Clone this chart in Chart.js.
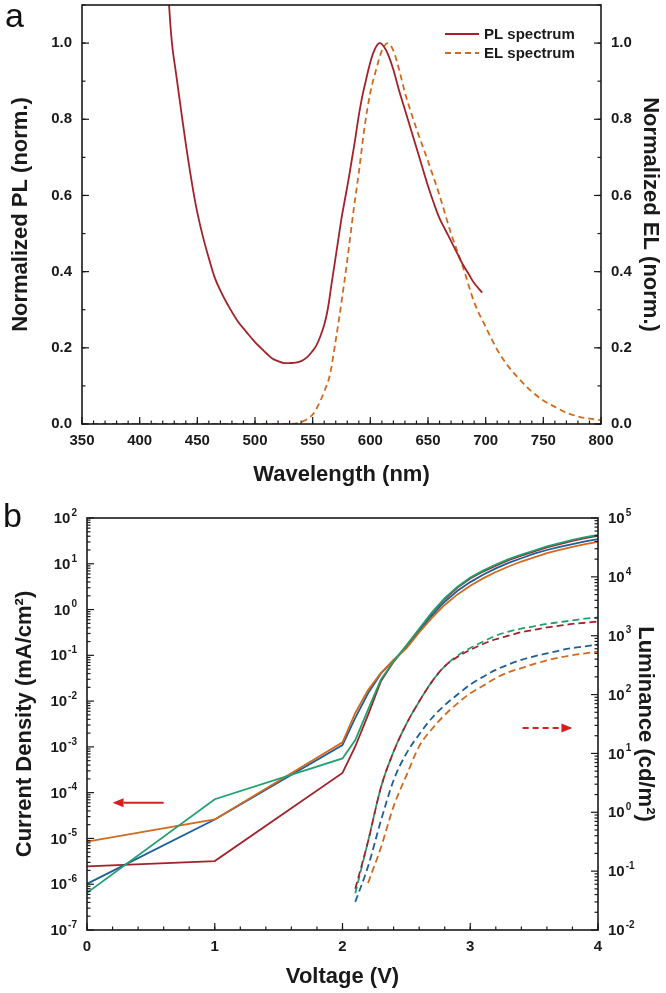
<!DOCTYPE html>
<html lang="en">
<head>
<meta charset="utf-8" />
<title>PL / EL spectra and J-V-L curves</title>
<script src="https://cdn.jsdelivr.net/npm/chart.js@4"></script>
<style>
  body { margin: 0; background: #fff; }
  #wrap { position: relative; width: 666px; height: 993px; font-family: "Liberation Sans", Arial, sans-serif; }
  canvas { position: absolute; left: 0; }
  #chartA { top: 0; }
  #chartB { top: 490px; }
  .tag { position: absolute; font-size: 34px; line-height: 1; color: #111; }
</style>
</head>
<body>
<div id="wrap">
  <canvas id="chartA" width="666" height="490"></canvas>
  <canvas id="chartB" width="666" height="503"></canvas>
  <div class="tag" style="left:5px; top:-2px;">a</div>
  <div class="tag" style="left:3px; top:498px;">b</div>
</div>

<script>
// ---- panel a : spectra ----
const plWavelength = [425, 428, 432, 437, 441, 446, 450, 455, 460, 465, 470, 476, 485, 493, 500, 505, 510, 515,
  520, 525, 530, 535, 540, 545, 550, 553, 556, 560, 563, 566, 569, 572, 575, 578, 581, 584, 587, 590, 593, 596,
  600, 604, 608, 612, 616, 620, 625, 630, 635, 640, 645, 650, 655, 660, 665, 670, 675, 680, 685, 690, 697];
const plValue = [1.12, 1.0, 0.91, 0.8, 0.715, 0.62, 0.555, 0.49, 0.435, 0.385, 0.35, 0.315, 0.27, 0.24, 0.215, 0.2,
  0.185, 0.172, 0.165, 0.16, 0.16, 0.161, 0.165, 0.175, 0.192, 0.205, 0.225, 0.26, 0.3, 0.36, 0.42, 0.48, 0.54,
  0.59, 0.64, 0.695, 0.75, 0.81, 0.86, 0.9, 0.95, 0.985, 1.0, 0.99, 0.965, 0.93, 0.875, 0.825, 0.775, 0.725, 0.675,
  0.625, 0.58, 0.54, 0.51, 0.48, 0.45, 0.42, 0.395, 0.37, 0.345];

const elWavelength = [350, 400, 450, 500, 530, 540, 550, 555, 560, 565, 570, 575, 580, 585, 590, 595, 600,
  605, 610, 615, 620, 625, 630, 640, 650, 660, 670, 680, 690, 700, 710, 720, 730, 740, 750, 760, 770, 780, 790, 800];
const elValue = [0, 0, 0, 0, 0, 0.005, 0.025, 0.05, 0.085, 0.13, 0.22, 0.32, 0.43, 0.55, 0.66, 0.78, 0.87,
  0.93, 0.98, 1.0, 0.98, 0.93, 0.87, 0.775, 0.69, 0.6, 0.5, 0.415, 0.32, 0.255, 0.195, 0.15, 0.115, 0.085, 0.062,
  0.045, 0.03, 0.02, 0.014, 0.01];

// ---- panel b : current density (mA/cm2) and luminance (cd/m2) vs voltage ----
const jvVoltage = [0, 1, 2, 2.1, 2.2, 2.3, 2.4, 2.5, 2.6, 2.7, 2.8, 2.9, 3.0, 3.1, 3.2, 3.3, 3.4, 3.5, 3.6, 3.7, 3.8, 3.9, 4.0];
const jNoTreatment = [2.45e-6, 3.2e-6, 2.7e-4, 1.02e-3, 5.0e-3, 2.7e-2, 7.2e-2, 0.158, 0.363, 0.83, 1.70, 3.02,
  4.79, 6.76, 9.12, 12.0, 15.1, 18.6, 22.9, 26.9, 31.6, 36.3, 40.7];
const jHeating = [8.5e-6, 2.6e-5, 1.26e-3, 5.5e-3, 1.74e-2, 4.1e-2, 7.9e-2, 0.141, 0.316, 0.66, 1.26, 2.14,
  3.31, 4.79, 6.61, 8.71, 11.2, 13.8, 17.0, 20.0, 23.4, 26.9, 30.2];
const jRTBlading = [6.5e-7, 7.2e-5, 5.6e-4, 1.41e-3, 6.5e-3, 2.95e-2, 7.4e-2, 0.166, 0.38, 0.87, 1.78, 3.16,
  5.01, 7.08, 9.55, 12.6, 15.8, 19.5, 24.0, 28.2, 33.1, 38.0, 42.7];
const jHotBlading = [1.02e-6, 2.6e-5, 1.1e-3, 4.3e-3, 1.48e-2, 3.98e-2, 7.9e-2, 0.151, 0.339, 0.741, 1.48, 2.57,
  3.98, 5.75, 7.94, 10.5, 13.2, 16.6, 20.0, 23.4, 26.9, 30.9, 34.7];

const lvVoltage = [2.1, 2.2, 2.3, 2.4, 2.5, 2.6, 2.7, 2.8, 2.9, 3.0, 3.1, 3.2, 3.3, 3.4, 3.5, 3.6, 3.7, 3.8, 3.9, 4.0];
const lNoTreatment = [0.05, 0.32, 2.6, 10.7, 31.6, 76, 166, 302, 437, 575, 724, 871, 1000, 1148, 1259, 1380, 1479, 1585, 1660, 1738];
const lHeating = [null, 0.063, 0.25, 1.26, 4.2, 13.2, 26, 45, 71, 105, 141, 191, 240, 282, 331, 380, 427, 468, 501, 537];
const lRTBlading = [0.042, 0.32, 2.6, 10.7, 31.6, 76, 166, 302, 457, 617, 794, 1000, 1175, 1318, 1445, 1585, 1698, 1820, 1950, 2042];
const lHotBlading = [0.03, 0.12, 0.71, 3.5, 10, 21, 40, 66, 100, 148, 200, 263, 324, 389, 447, 501, 562, 617, 661, 708];

const FONT = '"Liberation Sans", Arial, sans-serif';
const INK = '#1a1a1a';
const RED = '#a3222a';
const ORANGE = '#d2691f';
const GREEN = '#22a06f';
const BLUE = '#1f5f98';
const ARROW = '#d42020';

Chart.defaults.font.family = FONT;
Chart.defaults.color = INK;

function pts(xs, ys) {
  const out = [];
  xs.forEach((x, i) => { if (ys[i] !== null) out.push({ x: x, y: ys[i] }); });
  return out;
}
function stepValues(lo, hi, step) {
  const out = [];
  for (let v = lo; v <= hi + step * 1e-6; v += step) out.push(+v.toFixed(6));
  return out;
}
function decades(lo, hi) {
  const out = [];
  for (let e = lo; e <= hi; e++) out.push(Math.pow(10, e));
  return out;
}
function logMinor(lo, hi) {
  const out = [];
  for (let e = lo; e < hi; e++) for (let k = 2; k <= 9; k++) out.push(k * Math.pow(10, e));
  return out;
}

// box, inward ticks, tick labels, legend and arrows
const framePlugin = {
  id: 'frame',
  afterDatasetsDraw(chart, args, opts) {
    const ctx = chart.ctx, a = chart.chartArea;
    const bold15 = 'bold 15px ' + FONT, bold10 = 'bold 10px ' + FONT;
    ctx.save();
    ctx.strokeStyle = INK;
    ctx.fillStyle = INK;
    ctx.lineWidth = 1.6;
    ctx.strokeRect(a.left, a.top, a.right - a.left, a.bottom - a.top);

    ctx.lineWidth = 1.2;
    opts.axes.forEach(ax => {
      const sc = chart.scales[ax.id];
      const mark = (v, len) => {
        const p = sc.getPixelForValue(v);
        ctx.beginPath();
        if (ax.side === 'bottom') { ctx.moveTo(p, a.bottom); ctx.lineTo(p, a.bottom - len); }
        else if (ax.side === 'left') { ctx.moveTo(a.left, p); ctx.lineTo(a.left + len, p); }
        else { ctx.moveTo(a.right, p); ctx.lineTo(a.right - len, p); }
        ctx.stroke();
      };
      ax.minor.forEach(v => mark(v, 3.5));
      ax.major.forEach(v => mark(v, 7));

      ctx.textBaseline = 'middle';
      ax.major.forEach(v => {
        const p = sc.getPixelForValue(v);
        if (ax.log) {
          const exp = String(Math.round(Math.log10(v)));
          ctx.font = bold15;
          const wb = ctx.measureText('10').width;
          ctx.font = bold10;
          const we = ctx.measureText(exp).width;
          const x0 = ax.side === 'left' ? a.left - 10 - (wb + we + 1) : a.right + 10;
          ctx.textAlign = 'left';
          ctx.font = bold15;
          ctx.fillText('10', x0, p + 1);
          ctx.font = bold10;
          ctx.fillText(exp, x0 + wb + 1, p - 5);
        } else {
          const txt = ax.fmt(v);
          ctx.font = bold15;
          if (ax.side === 'bottom') { ctx.textAlign = 'center'; ctx.fillText(txt, p, a.bottom + 17); }
          else if (ax.side === 'left') { ctx.textAlign = 'right'; ctx.fillText(txt, a.left - 10, p); }
          else { ctx.textAlign = 'left'; ctx.fillText(txt, a.right + 10, p); }
        }
      });
    });

    const lg = opts.legend;
    if (lg) {
      ctx.font = bold15;
      ctx.textAlign = 'left';
      ctx.textBaseline = 'middle';
      lg.items.forEach((di, i) => {
        const ds = chart.data.datasets[di];
        const y = lg.y + i * lg.rowGap;
        ctx.strokeStyle = ds.borderColor;
        ctx.lineWidth = ds.borderWidth;
        ctx.setLineDash(ds.borderDash || []);
        ctx.beginPath();
        ctx.moveTo(lg.x, y);
        ctx.lineTo(lg.x + lg.lineLen, y);
        ctx.stroke();
        ctx.setLineDash([]);
        ctx.fillStyle = INK;
        ctx.fillText(ds.label, lg.x + lg.lineLen + 5, y + 1);
      });
    }

    (opts.arrows || []).forEach(ar => {
      const xs = chart.scales.x, ys = chart.scales[ar.axis];
      const x1 = xs.getPixelForValue(ar.from[0]), y1 = ys.getPixelForValue(ar.from[1]);
      const x2 = xs.getPixelForValue(ar.to[0]), y2 = ys.getPixelForValue(ar.to[1]);
      const dir = Math.sign(x2 - x1), head = 11;
      ctx.strokeStyle = ARROW;
      ctx.fillStyle = ARROW;
      ctx.lineWidth = 2;
      ctx.setLineDash(ar.dash || []);
      ctx.beginPath();
      ctx.moveTo(x1, y1);
      ctx.lineTo(x2 - dir * head, y2);
      ctx.stroke();
      ctx.setLineDash([]);
      ctx.beginPath();
      ctx.moveTo(x2, y2);
      ctx.lineTo(x2 - dir * head, y2 - 4.5);
      ctx.lineTo(x2 - dir * head, y2 + 4.5);
      ctx.closePath();
      ctx.fill();
    });
    ctx.restore();
  }
};

function titleOpts(text, pad) {
  return { display: true, text: text, color: INK, font: { size: 22, weight: 'bold', family: FONT }, padding: pad };
}
function plainAxis(extra) {
  return Object.assign({
    grid: { display: false, drawTicks: false },
    border: { display: false },
    ticks: { display: false }
  }, extra);
}

// panel a
new Chart(document.getElementById('chartA'), {
  type: 'line',
  data: {
    datasets: [
      { label: 'PL spectrum', data: pts(plWavelength, plValue), yAxisID: 'y', borderColor: RED,
        borderWidth: 1.8, pointRadius: 0, tension: 0.4 },
      { label: 'EL spectrum', data: pts(elWavelength, elValue), yAxisID: 'y2', borderColor: ORANGE,
        borderWidth: 1.8, borderDash: [6, 4], pointRadius: 0, cubicInterpolationMode: 'monotone' }
    ]
  },
  options: {
    responsive: false,
    animation: false,
    events: [],
    layout: { padding: { top: 5, left: 0, right: 0, bottom: 0 } },
    plugins: {
      legend: { display: false },
      tooltip: { enabled: false },
      frame: {
        axes: [
          { id: 'x', side: 'bottom', major: stepValues(350, 800, 50), minor: stepValues(350, 800, 10), fmt: v => String(v) },
          { id: 'y', side: 'left', major: stepValues(0, 1.0, 0.2), minor: stepValues(0, 1.1, 0.1), fmt: v => v.toFixed(1) },
          { id: 'y2', side: 'right', major: stepValues(0, 1.0, 0.2), minor: stepValues(0, 1.1, 0.1), fmt: v => v.toFixed(1) }
        ],
        legend: { x: 445, y: 34, lineLen: 34, rowGap: 19, items: [0, 1] }
      }
    },
    scales: {
      x: plainAxis({ type: 'linear', position: 'bottom', min: 350, max: 800,
        title: titleOpts('Wavelength (nm)', { top: 0, bottom: 2 }),
        afterFit(s) { s.height = 66; s.paddingLeft = 0; s.paddingRight = 0; } }),
      y: plainAxis({ type: 'linear', position: 'left', min: 0, max: 1.1,
        title: titleOpts('Normalized PL (norm.)', { top: 8, bottom: 0 }),
        afterFit(s) { s.width = 82; s.paddingTop = 0; s.paddingBottom = 0; } }),
      y2: plainAxis({ type: 'linear', position: 'right', min: 0, max: 1.1,
        title: titleOpts('Normalized EL (norm.)', { top: 3, bottom: 0 }),
        afterFit(s) { s.width = 65; s.paddingTop = 0; s.paddingBottom = 0; } })
    }
  },
  plugins: [framePlugin]
});

// panel b
function jvSet(label, values, color, order) {
  return { label: label, data: pts(jvVoltage, values), yAxisID: 'y', borderColor: color,
    borderWidth: 1.8, pointRadius: 0, tension: 0, order: order };
}
function lvSet(label, values, color, order) {
  return { label: label, data: pts(lvVoltage, values), yAxisID: 'y2', borderColor: color,
    borderWidth: 1.8, borderDash: [7, 4], pointRadius: 0, cubicInterpolationMode: 'monotone', order: order };
}

new Chart(document.getElementById('chartB'), {
  type: 'line',
  data: {
    datasets: [
      jvSet('No treatment', jNoTreatment, RED, 8),
      jvSet('90 °C heating', jHeating, ORANGE, 6),
      jvSet('RT blading', jRTBlading, GREEN, 5),
      jvSet('90 °C blading', jHotBlading, BLUE, 7),
      lvSet('No treatment L', lNoTreatment, RED, 3),
      lvSet('90 °C heating L', lHeating, ORANGE, 2),
      lvSet('RT blading L', lRTBlading, GREEN, 4),
      lvSet('90 °C blading L', lHotBlading, BLUE, 1)
    ]
  },
  options: {
    responsive: false,
    animation: false,
    events: [],
    layout: { padding: { top: 28, left: 0, right: 0, bottom: 0 } },
    plugins: {
      legend: { display: false },
      tooltip: { enabled: false },
      frame: {
        axes: [
          { id: 'x', side: 'bottom', major: stepValues(0, 4, 1), minor: stepValues(0, 4, 0.2), fmt: v => String(v) },
          { id: 'y', side: 'left', log: true, major: decades(-7, 2), minor: logMinor(-7, 2) },
          { id: 'y2', side: 'right', log: true, major: decades(-2, 5), minor: logMinor(-2, 5) }
        ],
        legend: { x: 117, y: 542, lineLen: 35, rowGap: 21, items: [0, 1, 2, 3] },
        arrows: [
          { axis: 'y', from: [0.6, 6e-5], to: [0.2, 6e-5] },
          { axis: 'y2', from: [3.41, 27], to: [3.8, 27], dash: [6, 4] }
        ]
      }
    },
    scales: {
      x: plainAxis({ type: 'linear', position: 'bottom', min: 0, max: 4,
        title: titleOpts('Voltage (V)', { top: 0, bottom: 3 }),
        afterFit(s) { s.height = 63; s.paddingLeft = 0; s.paddingRight = 0; } }),
      y: plainAxis({ type: 'logarithmic', position: 'left', min: 1e-7, max: 1e2,
        title: titleOpts('Current Density (mA/cm²)', { top: 12, bottom: 0 }),
        afterFit(s) { s.width = 87; s.paddingTop = 0; s.paddingBottom = 0; } }),
      y2: plainAxis({ type: 'logarithmic', position: 'right', min: 1e-2, max: 1e5,
        title: titleOpts('Luminance (cd/m²)', { top: 8, bottom: 0 }),
        afterFit(s) { s.width = 68; s.paddingTop = 0; s.paddingBottom = 0; } })
    }
  },
  plugins: [framePlugin]
});
</script>
</body>
</html>
